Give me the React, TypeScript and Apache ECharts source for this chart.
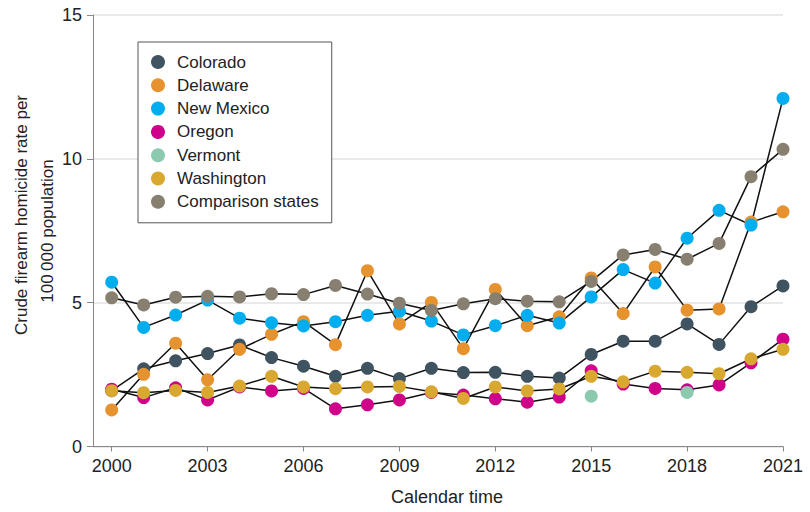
import React, { useEffect, useRef } from 'react';
import * as echarts from 'echarts';

const years = [
  2000, 2001, 2002, 2003, 2004, 2005, 2006, 2007, 2008, 2009, 2010,
  2011, 2012, 2013, 2014, 2015, 2016, 2017, 2018, 2019, 2020, 2021,
];
const yearTicks = [2000, 2003, 2006, 2009, 2012, 2015, 2018, 2021];

const colorado = [1.94, 2.7, 2.98, 3.23, 3.53, 3.09, 2.79, 2.44, 2.72, 2.36, 2.72, 2.57, 2.58, 2.44, 2.38, 3.2, 3.66, 3.66, 4.26, 3.55, 4.86, 5.58];
const delaware = [1.27, 2.51, 3.59, 2.32, 3.38, 3.9, 4.34, 3.54, 6.11, 4.26, 5.01, 3.4, 5.46, 4.2, 4.51, 5.86, 4.62, 6.24, 4.74, 4.78, 7.8, 8.16];
const newMexico = [5.71, 4.14, 4.57, 5.09, 4.46, 4.3, 4.19, 4.34, 4.56, 4.7, 4.36, 3.88, 4.2, 4.56, 4.29, 5.2, 6.15, 5.68, 7.24, 8.21, 7.7, 12.1];
const oregon = [1.99, 1.7, 2.04, 1.62, 2.07, 1.93, 2.02, 1.31, 1.45, 1.62, 1.88, 1.79, 1.66, 1.54, 1.72, 2.63, 2.17, 2.02, 1.97, 2.14, 2.91, 3.73];
const vermont = [null, null, null, null, null, null, null, null, null, null, null, null, null, null, null, 1.75, null, null, 1.88, null, null, null];
const washington = [1.94, 1.87, 1.95, 1.88, 2.1, 2.44, 2.07, 2.01, 2.07, 2.09, 1.9, 1.67, 2.07, 1.93, 2.0, 2.44, 2.25, 2.62, 2.58, 2.53, 3.05, 3.38];
const comparison = [5.17, 4.92, 5.19, 5.22, 5.2, 5.31, 5.28, 5.6, 5.3, 4.98, 4.73, 4.96, 5.14, 5.05, 5.03, 5.74, 6.66, 6.85, 6.51, 7.06, 9.38, 10.33];

const seriesDefs = [
  { name: 'Colorado', values: colorado, color: '#3f5360' },
  { name: 'Delaware', values: delaware, color: '#e6922e' },
  { name: 'New Mexico', values: newMexico, color: '#00aeef' },
  { name: 'Oregon', values: oregon, color: '#d0008a' },
  { name: 'Vermont', values: vermont, color: '#8ccab0' },
  { name: 'Washington', values: washington, color: '#d8a830' },
  { name: 'Comparison states', values: comparison, color: '#877f70' },
];

const FONT = '"Liberation Sans", Arial, sans-serif';

const App: React.FC = () => {
  const chartRef = useRef<HTMLDivElement>(null);

  useEffect(() => {
    if (!chartRef.current) return;
    const chart = echarts.init(chartRef.current, undefined, { renderer: 'svg' });

    const option = {
      animation: false,
      backgroundColor: '#fff',
      textStyle: { fontFamily: FONT },
      grid: { left: 93, right: 27, top: 15, bottom: 65.5 },
      legend: {
        orient: 'vertical',
        left: 138,
        top: 42,
        padding: [11.5, 13, 12.5, 13],
        itemGap: 6.3,
        itemWidth: 14,
        itemHeight: 14,
        icon: 'circle',
        borderColor: '#555',
        borderWidth: 1,
        backgroundColor: '#fff',
        itemStyle: { borderWidth: 0 },
        textStyle: {
          fontFamily: FONT,
          fontSize: 17,
          color: '#222',
          padding: [0, 0, 0, 7],
        },
        data: seriesDefs.map((s) => s.name),
      },
      xAxis: {
        type: 'value',
        min: 1999.415,
        max: 2021,
        axisLine: { show: true, lineStyle: { color: '#888', width: 1 } },
        axisTick: { show: true, length: 5, customValues: yearTicks, lineStyle: { color: '#888' } },
        axisLabel: {
          customValues: yearTicks,
          margin: 10,
          fontSize: 18,
          color: '#222',
          fontFamily: FONT,
          formatter: (v: number) => String(v),
        },
        splitLine: { show: false },
      },
      yAxis: {
        type: 'value',
        min: 0,
        max: 15,
        interval: 5,
        axisLine: { show: true, lineStyle: { color: '#888', width: 1 } },
        axisTick: { show: true, length: 6, lineStyle: { color: '#888' } },
        axisLabel: { margin: 11, fontSize: 18, color: '#222', fontFamily: FONT },
        splitLine: { show: true, lineStyle: { color: '#e2e2e2', width: 1.5 } },
      },
      graphic: [
        {
          type: 'text',
          x: 21.5,
          y: 215,
          rotation: Math.PI / 2,
          style: {
            text: 'Crude firearm homicide rate per',
            fontFamily: FONT,
            fontSize: 17,
            fill: '#222',
            textAlign: 'center',
            textVerticalAlign: 'middle',
          },
        },
        {
          type: 'text',
          x: 47.5,
          y: 231,
          rotation: Math.PI / 2,
          style: {
            text: '100\u2009000 population',
            fontFamily: FONT,
            fontSize: 17,
            fill: '#222',
            textAlign: 'center',
            textVerticalAlign: 'middle',
          },
        },
        {
          type: 'text',
          x: 447,
          y: 497,
          style: {
            text: 'Calendar time',
            fontFamily: FONT,
            fontSize: 18,
            fill: '#222',
            textAlign: 'center',
            textVerticalAlign: 'middle',
          },
        },
      ],
      series: seriesDefs.map((s) => ({
        name: s.name,
        type: 'line',
        data: years.map((y, i) => [y, s.values[i]]),
        connectNulls: false,
        clip: false,
        symbol: 'circle',
        symbolSize: 13,
        showAllSymbol: true,
        itemStyle: { color: s.color, borderWidth: 0 },
        lineStyle: { color: '#111', width: 1.5 },
        emphasis: { disabled: true },
      })),
    };

    chart.setOption(option);
    return () => {
      chart.dispose();
    };
  }, []);

  return (
    <div
      ref={chartRef}
      style={{ position: 'fixed', left: 0, top: 0, width: 810, height: 512 }}
    />
  );
};

export default App;
